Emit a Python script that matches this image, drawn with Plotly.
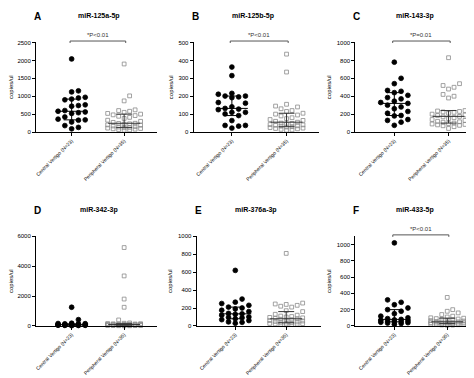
import numpy as np
import plotly.graph_objects as go

W, H = 474, 378

# ---------------- data ----------------
panels = ["A", "B", "C", "D", "E", "F"]
titles = ["miR-125a-5p", "miR-125b-5p", "miR-143-3p", "miR-342-3p", "miR-376a-3p", "miR-433-5p"]
categories = ["Central Vertigo (N=23)", "Peripheral Vertigo (N=35)"]
pvalues = ["*P<0.01", "*P<0.01", "*P=0.01", None, None, "*P<0.01"]

a_central = [2040, 1150, 1120, 970, 950, 920, 900, 760, 740, 720, 600, 580, 560, 540, 520, 420, 360, 340, 330, 280, 180, 130, 90]
a_periph = [1900, 1010, 870, 620, 600, 580, 550, 520, 500, 480, 460, 440, 410, 380, 330, 300, 270, 245, 240, 230, 220, 200,
            190, 170, 150, 140, 130, 120, 110, 100, 90, 80, 70, 60, 50]
b_central = [363, 315, 216, 211, 201, 201, 196, 192, 165, 161, 141, 132, 128, 125, 110, 110, 101, 92, 64, 37, 37, 33, 22]
b_periph = [435, 335, 155, 145, 140, 130, 120, 115, 105, 100, 95, 90, 80, 75, 70, 65, 60, 50, 48, 45, 42, 40, 38, 35,
            33, 30, 28, 25, 22, 20, 18, 15, 12, 10, 55]
c_central = [780, 600, 540, 465, 455, 440, 410, 385, 370, 345, 330, 320, 300, 280, 260, 230, 210, 185, 180, 140, 130, 110, 75]
c_periph = [830, 540, 520, 500, 480, 420, 400, 380, 240, 235, 230, 225, 220, 210, 200, 190, 185, 175, 170, 160, 150, 140,
            130, 120, 115, 110, 100, 95, 90, 85, 80, 75, 70, 60, 40]
d_central = [1250, 420, 180, 160, 150, 140, 130, 120, 110, 100, 90, 85, 80, 70, 65, 60, 55, 50, 45, 40, 35, 30, 20]
d_periph = [5250, 3350, 1800, 1250, 400, 200, 180, 160, 150, 140, 130, 120, 115, 110, 105, 100, 95, 90, 85, 80, 75, 70,
            65, 60, 55, 50, 45, 40, 35, 30, 25, 20, 15, 10, 5]
e_central = [620, 300, 265, 250, 230, 210, 200, 190, 175, 160, 140, 135, 130, 120, 100, 95, 90, 80, 70, 60, 45, 40, 30]
e_periph = [810, 255, 245, 240, 230, 220, 210, 170, 160, 130, 120, 110, 105, 100, 95, 90, 85, 80, 75, 70, 65, 60, 55,
            50, 45, 40, 35, 30, 28, 25, 22, 20, 18, 15, 12]
f_central = [1020, 320, 290, 260, 220, 200, 180, 150, 120, 100, 90, 80, 75, 70, 65, 60, 55, 50, 45, 40, 35, 30, 20]
f_periph = [350, 200, 180, 160, 140, 120, 110, 100, 95, 90, 85, 80, 75, 70, 65, 60, 55, 50, 48, 45, 42, 40, 38, 35,
            32, 30, 28, 25, 22, 20, 18, 15, 12, 10, 8]

central = [a_central, b_central, c_central, d_central, e_central, f_central]
periph = [a_periph, b_periph, c_periph, d_periph, e_periph, f_periph]

yranges = [[0, 2500], [0, 500], [0, 1000], [0, 6000], [0, 1000], [0, 1100]]
ytickvals = [[0, 500, 1000, 1500, 2000, 2500], [0, 100, 200, 300, 400, 500], [0, 200, 400, 600, 800, 1000],
             [0, 2000, 4000, 6000], [0, 200, 400, 600, 800, 1000], [0, 200, 400, 600, 800, 1000]]

# ---------------- layout geometry (pixels) ----------------
xdom_px = [(27, 148), (185, 311), (347, 472), (27, 148), (188, 313), (347, 472)]
ydom_px = [(32, 123)] * 3 + [(229, 320)] * 3
xranges = [[-0.68, 1.62], [-0.70, 1.60], [-0.72, 1.58], [-0.68, 1.62], [-0.76, 1.69], [-0.74, 1.62]]


def swarm(vals, yr, hpx, d, maxw):
    vals = np.asarray(vals, float)
    ypx = (vals - yr[0]) / (yr[1] - yr[0]) * hpx
    order = np.argsort(vals)
    placed = []
    offs = np.zeros(len(vals))
    cands = [0.0]
    k = 1
    while k * d <= maxw + 1e-9:
        cands += [k * d, -k * d]
        k += 1
    for i in order:
        best, bestscore = 0.0, -1
        chosen = None
        for c in cands:
            md = min([np.hypot(c - px, ypx[i] - py) for px, py in placed] or [1e9])
            if md >= d:
                chosen = c
                break
            if md > bestscore:
                bestscore, best = md, c
        if chosen is None:
            chosen = best
        offs[i] = chosen
        placed.append((chosen, ypx[i]))
    return offs


fig = go.Figure()
annotations = []
shapes = []

for p in range(6):
    ax = "" if p == 0 else str(p + 1)
    xname, yname = "x" + ax, "y" + ax
    x0, x1 = xdom_px[p]
    yt, yb = ydom_px[p]
    wpx, hpx = x1 - x0, yb - yt
    xr = xranges[p]
    upx = (xr[1] - xr[0]) / wpx  # x units per pixel

    for gi, (vals, sym, col, size, d) in enumerate([
        (central[p], "circle", "black", 4.8, 6.8),
        (periph[p], "square-open", "#8a8a8a", 3.8, 5.5),
    ]):
        offs = swarm(vals, yranges[p], hpx, d, 17)
        fig.add_trace(go.Scatter(
            x=gi + offs * upx, y=vals, mode="markers", xaxis=xname, yaxis=yname,
            marker=dict(symbol=sym, color=col, size=size, line=dict(color=col, width=0.8)),
            cliponaxis=False, showlegend=False, hoverinfo="skip"))
        q1, med, q3 = np.percentile(vals, [25, 50, 75], method="weibull")
        lc = "black" if gi == 0 else "#333333"
        mw, qw = 16 * upx, 8 * upx
        lx = [gi - mw, gi + mw, None, gi - qw, gi + qw, None, gi - qw, gi + qw, None, gi, gi]
        ly = [med, med, None, q1, q1, None, q3, q3, None, q1, q3]
        fig.add_trace(go.Scatter(x=lx, y=ly, mode="lines", xaxis=xname, yaxis=yname,
                                 line=dict(color=lc, width=1), cliponaxis=False,
                                 showlegend=False, hoverinfo="skip"))

    fig.layout["xaxis" + ax] = dict(
        domain=[x0 / W, x1 / W], range=xr, anchor=yname,
        tickvals=[0, 1], ticktext=categories, tickangle=-45,
        tickfont=dict(size=5, color="black", family="Arial"),
        showline=True, linecolor="black", linewidth=1, ticks="outside", ticklen=3,
        tickcolor="black", showgrid=False, zeroline=False, fixedrange=True)
    fig.layout["yaxis" + ax] = dict(
        domain=[1 - yb / H, 1 - yt / H], range=yranges[p], anchor=xname,
        tickvals=ytickvals[p], ticktext=[str(v) for v in ytickvals[p]],
        tickfont=dict(size=6, color="black", family="Arial"),
        showline=True, linecolor="black", linewidth=1, ticks="outside", ticklen=3,
        tickcolor="black", showgrid=False, zeroline=False,
        title=dict(text="copies/ul", font=dict(size=6, color="black", family="Arial"), standoff=4))

    # panel letter and title
    ly_px = yt - 26
    annotations.append(dict(text="<b>%s</b>" % panels[p], x=(x0 - 4) / W, y=1 - ly_px / H,
                            xref="paper", yref="paper", showarrow=False, xanchor="left", yanchor="middle",
                            font=dict(size=10, color="black", family="Arial")))
    tx = (x0 + x1) / 2 - 3 if p % 3 else 90
    annotations.append(dict(text="<b>%s</b>" % titles[p], x=tx / W, y=1 - (ly_px - 1) / H,
                            xref="paper", yref="paper", showarrow=False, xanchor="center", yanchor="middle",
                            font=dict(size=7, color="black", family="Arial")))

    if pvalues[p]:
        by = 1 - (yt - 1.5) / H
        shapes.append(dict(type="line", xref=xname, yref="paper", x0=-0.03, x1=1.03, y0=by, y1=by,
                           line=dict(color="#555555", width=1)))
        for xe in (-0.03, 1.03):
            shapes.append(dict(type="line", xref=xname, yref="paper", x0=xe, x1=xe, y0=by, y1=by - 2 / H,
                               line=dict(color="#555555", width=1)))
        annotations.append(dict(text=pvalues[p], x=0.5, y=by + 1 / H, xref=xname, yref="paper",
                                showarrow=False, xanchor="center", yanchor="bottom",
                                font=dict(size=6, color="#333333", family="Arial")))

fig.update_layout(width=W, height=H, margin=dict(l=0, r=0, t=0, b=0),
                  paper_bgcolor="white", plot_bgcolor="white",
                  annotations=annotations, shapes=shapes, showlegend=False)

fig.write_html("out.html")
